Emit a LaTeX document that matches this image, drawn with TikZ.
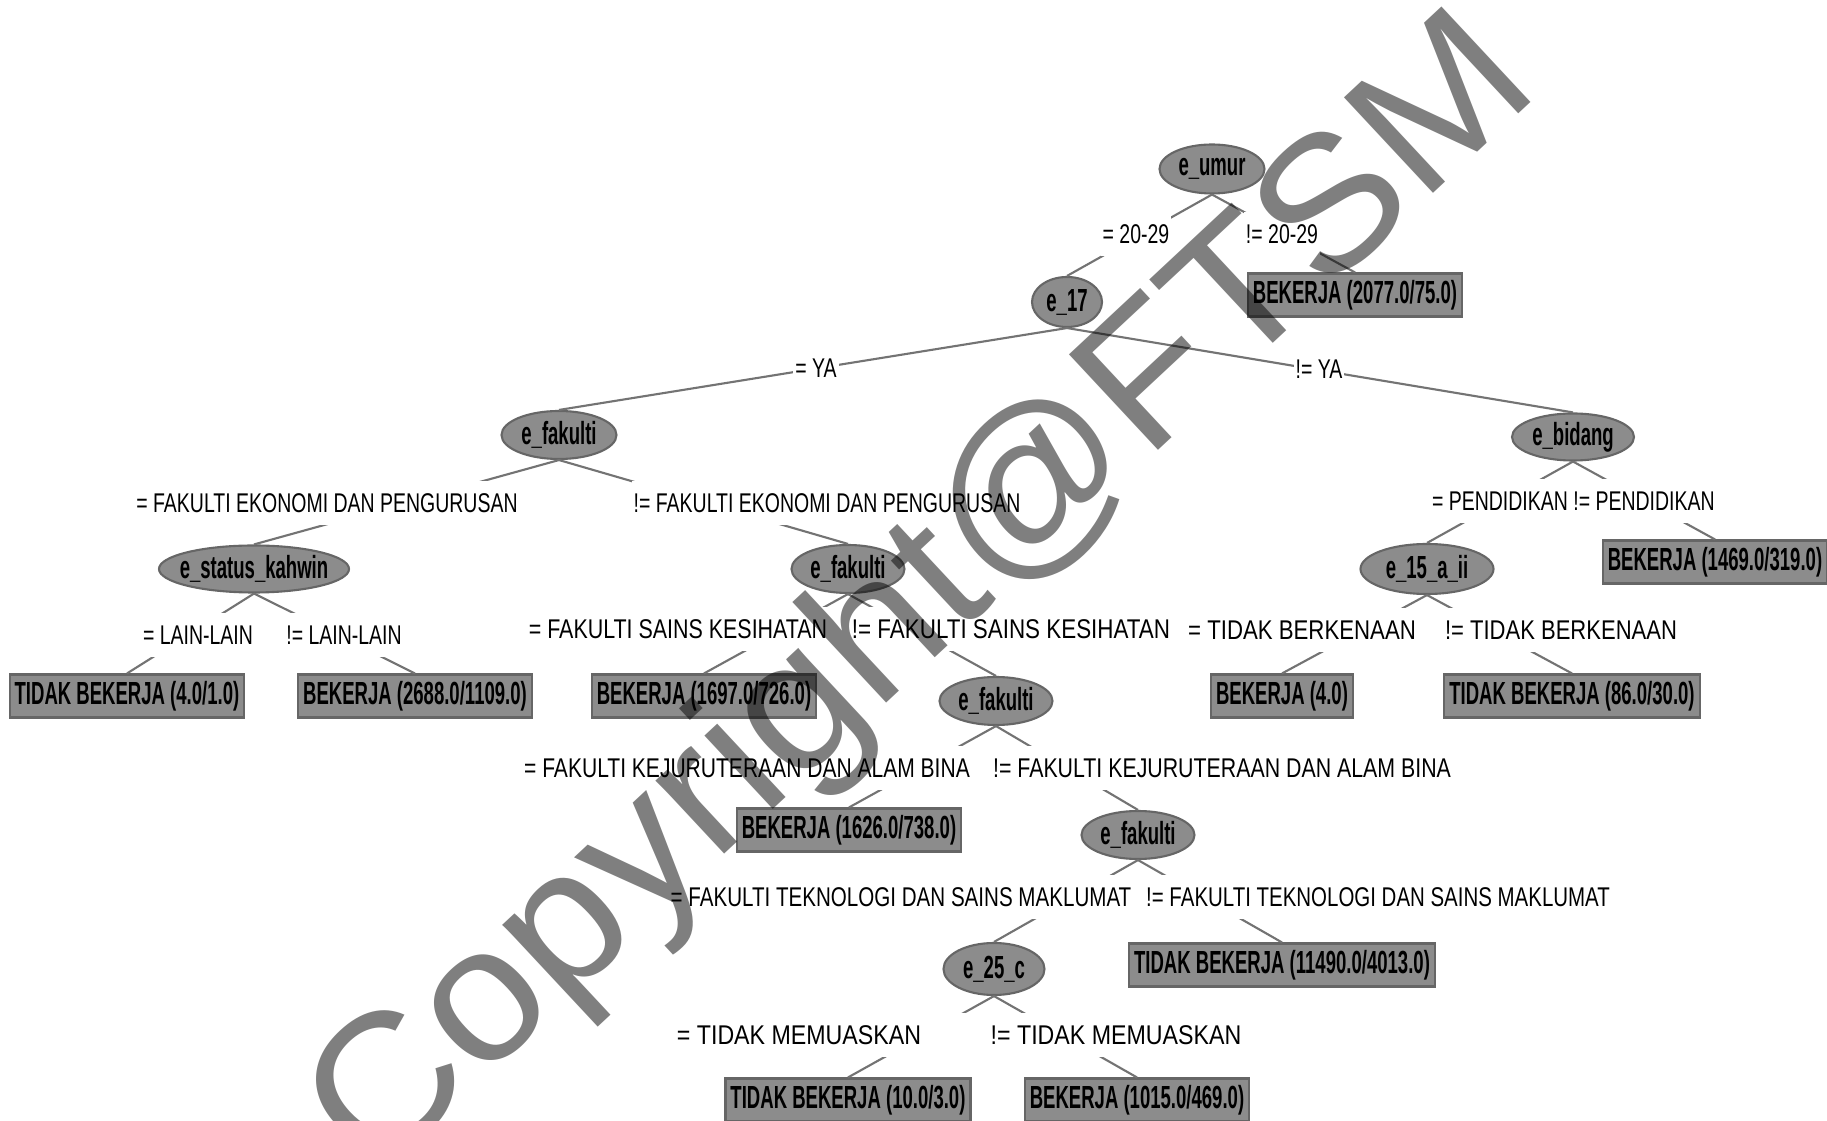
\documentclass[tikz,border=0pt]{standalone}
\usepackage{graphicx}
\usepackage{fontspec}
\setmainfont{Liberation Sans}
\newfontfamily\lblfont{Liberation Sans}[FakeStretch=0.72]
\newfontfamily\boxfont{Liberation Sans}[FakeStretch=0.58]
\newfontfamily\wmfont{Liberation Sans}
\usetikzlibrary{shapes.geometric}

\begin{document}
\begin{tikzpicture}[
  every node/.style={font=\lblfont\fontsize{7.7}{9}\selectfont},
  link/.style={draw=black!55, line width=0.6pt},
  attr/.style={ellipse, fill=black!45, draw=black!60, line width=0.6pt,
    inner xsep=-0.3cm, inner ysep=-0.1cm, font=\boxfont\bfseries\fontsize{9.1}{10}\selectfont},
  leaf/.style={fill=black!45, draw=black!60, line width=0.6pt, inner xsep=0.05cm,
    inner ysep=0pt, minimum height=0.43cm, font=\boxfont\bfseries\fontsize{9.1}{10}\selectfont},
  cond/.style={fill=white, inner xsep=0.02cm, inner ysep=0pt, minimum height=0.44cm},
  wmark/.style={font=\wmfont\fontsize{54}{60}\selectfont, text=black, text opacity=0.5, inner sep=0pt}
]

% ---------- canvas ----------
\fill[white] (0,0) rectangle (18.27,-11.21);
\useasboundingbox (0,0) rectangle (18.27,-11.21);

% ---------- attribute tests (ellipses) ----------
\node[attr, minimum width=1.05cm, minimum height=0.49cm] (eumur)   at (12.12,-1.69) {e\_umur};
\node[attr, minimum width=0.70cm, minimum height=0.50cm] (e17)     at (10.67,-3.02) {e\_17};
\node[attr, minimum width=1.15cm, minimum height=0.48cm] (efak1)   at (5.59,-4.35)  {e\_fakulti};
\node[attr, minimum width=1.22cm, minimum height=0.47cm] (ebidang) at (15.73,-4.37) {e\_bidang};
\node[attr, minimum width=1.90cm, minimum height=0.47cm] (estatus) at (2.54,-5.69)  {e\_status\_kahwin};
\node[attr, minimum width=1.13cm, minimum height=0.48cm] (efak2)   at (8.48,-5.69)  {e\_fakulti};
\node[attr, minimum width=1.33cm, minimum height=0.50cm] (e15)     at (14.27,-5.69) {e\_15\_a\_ii};
\node[attr, minimum width=1.13cm, minimum height=0.48cm] (efak3)   at (9.96,-7.01)  {e\_fakulti};
\node[attr, minimum width=1.13cm, minimum height=0.48cm] (efak4)   at (11.38,-8.35) {e\_fakulti};
\node[attr, minimum width=1.01cm, minimum height=0.52cm] (e25)     at (9.94,-9.69)  {e\_25\_c};

% ---------- leaves (boxes) ----------
\node[leaf] (l2077)  at (13.55,-2.95)  {BEKERJA (2077.0/75.0)};
\node[leaf] (l1469)  at (17.15,-5.62)  {BEKERJA (1469.0/319.0)};
\node[leaf] (l41)    at (1.27,-6.96)   {TIDAK BEKERJA (4.0/1.0)};
\node[leaf] (l2688)  at (4.15,-6.96)   {BEKERJA (2688.0/1109.0)};
\node[leaf] (l1697)  at (7.04,-6.96)   {BEKERJA (1697.0/726.0)};
\node[leaf] (l40)    at (12.82,-6.96)  {BEKERJA (4.0)};
\node[leaf] (l86)    at (15.72,-6.96)  {TIDAK BEKERJA (86.0/30.0)};
\node[leaf] (l1626)  at (8.49,-8.30)   {BEKERJA (1626.0/738.0)};
\node[leaf] (l11490) at (12.82,-9.65)  {TIDAK BEKERJA (11490.0/4013.0)};
\node[leaf] (l103)   at (8.48,-11.00)  {TIDAK BEKERJA (10.0/3.0)};
\node[leaf] (l1015)  at (11.37,-11.00) {BEKERJA (1015.0/469.0)};

% ---------- branches ----------
\foreach \p/\c in {eumur/e17, eumur/l2077, e17/efak1, e17/ebidang,
                   efak1/estatus, efak1/efak2, ebidang/e15, ebidang/l1469,
                   estatus/l41, estatus/l2688, efak2/l1697, efak2/efak3,
                   e15/l40, e15/l86, efak3/l1626, efak3/efak4,
                   efak4/e25, efak4/l11490, e25/l103, e25/l1015}
  \draw[link] (\p.south) -- (\c.north);

% ---------- branch conditions ----------
\node[cond] (lu1)  at (11.36,-2.34) {= 20-29};
\node[cond] (lu2)  at (12.82,-2.34) {!= 20-29};
\node[cond] (l17a) at (8.16,-3.68)  {= YA};
\node[cond] (l17b) at (13.19,-3.69) {!= YA};
\node[cond] (lf1a) at (3.27,-5.03)  {= FAKULTI EKONOMI DAN PENGURUSAN};
\node[cond] (lf1b) at (8.27,-5.03)  {!= FAKULTI EKONOMI DAN PENGURUSAN};
\node[cond] (lba)  at (15.00,-5.01) {= PENDIDIKAN};
\node[cond] (lbb)  at (16.44,-5.01) {!= PENDIDIKAN};
\node[cond] (lsa)  at (1.98,-6.35)  {= LAIN-LAIN};
\node[cond] (lsb)  at (3.44,-6.35)  {!= LAIN-LAIN};
% lower rows are set a little wider
\node[cond] (lf2a) at (6.78,-6.29)  {\scalebox{1.10}[1]{= FAKULTI SAINS KESIHATAN}};
\node[cond] (lf2b) at (10.11,-6.29) {\scalebox{1.15}[1]{!= FAKULTI SAINS KESIHATAN}};
\node[cond] (l15a) at (13.02,-6.30) {\scalebox{1.14}[1]{= TIDAK BERKENAAN}};
\node[cond] (l15b) at (15.61,-6.30) {\scalebox{1.13}[1]{!= TIDAK BERKENAAN}};
\node[cond] (lf3a) at (7.47,-7.68)  {\scalebox{1.08}[1]{= FAKULTI KEJURUTERAAN DAN ALAM BINA}};
\node[cond] (lf3b) at (12.22,-7.68) {\scalebox{1.095}[1]{!= FAKULTI KEJURUTERAAN DAN ALAM BINA}};
\node[cond] (lf4a) at (9.01,-8.97)  {\scalebox{1.056}[1]{= FAKULTI TEKNOLOGI DAN SAINS MAKLUMAT}};
\node[cond] (lf4b) at (13.78,-8.97) {\scalebox{1.05}[1]{!= FAKULTI TEKNOLOGI DAN SAINS MAKLUMAT}};
\node[cond] (l25a) at (8.22,-10.35) {\scalebox{1.19}[1]{= TIDAK MEMUASKAN}\rule{0.46cm}{0pt}};
\node[cond] (l25b) at (11.16,-10.35) {\scalebox{1.19}[1]{!= TIDAK MEMUASKAN}};

% ---------- watermark ----------
\node[wmark, anchor=base, rotate=43] (wm) at (9.59,-6.36) {\scalebox{1.05}[1]{Copyright@FTSM}};

\end{tikzpicture}
\end{document}
